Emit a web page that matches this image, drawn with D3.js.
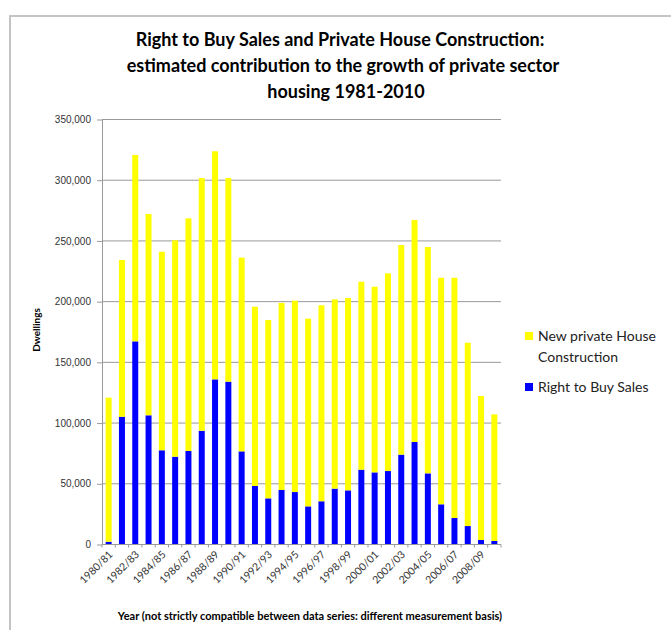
<!DOCTYPE html>
<meta charset="utf-8">
<style>
body { margin: 0; background: #fff; }
svg { font-family: Lato, "Open Sans", sans-serif; }
.grid line { stroke: #999; }
.yaxis path, .yaxis line { stroke: #999; }
.yaxis text { fill: #333; font-size: 10px; }
</style>
<body>
<script src="https://cdn.jsdelivr.net/npm/d3@7"></script>
<script>

// years (financial years)
var years = ["1980/81","1981/82","1982/83","1983/84","1984/85","1985/86","1986/87","1987/88",
  "1988/89","1989/90","1990/91","1991/92","1992/93","1993/94","1994/95","1995/96","1996/97",
  "1997/98","1998/99","1999/00","2000/01","2001/02","2002/03","2003/04","2004/05","2005/06",
  "2006/07","2007/08","2008/09","2009/10"];

// right to buy sales (blue)
var rtbSales = [2300,105200,167300,106400,77600,72300,77000,93700,136000,134100,76700,48200,
  38000,44900,43200,31400,35600,46000,44600,61600,59400,60500,74000,84400,58600,33100,21800,
  15200,3700,2900];

// new private house construction (yellow)
var newBuild = [118600,129100,153500,165800,163500,178200,191600,208100,187800,167700,159500,
  147600,146900,154000,157600,154600,161400,155900,158400,154800,152900,162800,172600,182800,
  186400,186600,197900,151000,118600,104300];

var yTicks = [0,50000,100000,150000,200000,250000,300000,350000];

var titleLines = ["Right to Buy Sales and Private House Construction:",
  "estimated contribution to the growth of private sector",
  "housing 1981-2010"];

var W = 671, H = 630;
var pLeft = 102, pRight = 501, pTop = 119.5, pBottom = 544.5;

var svg = d3.select("body").append("svg")
    .attr("width", W)
    .attr("height", H);

// outer frame
svg.append("rect")
    .attr("x", 10).attr("y", 16)
    .attr("width", 700).attr("height", 700)
    .attr("fill", "none")
    .attr("stroke", "#c4c4c4")
    .attr("stroke-width", 2);

var x = d3.scaleBand()
    .domain(years)
    .range([pLeft, pRight])
    .paddingInner(0.55)
    .paddingOuter(0.275);

var y = d3.scaleLinear()
    .domain([0, 350000])
    .range([pBottom, pTop]);

// gridlines
svg.append("g").attr("class", "grid")
  .selectAll("line")
    .data(yTicks.slice(1))
  .enter().append("line")
    .attr("x1", pLeft).attr("x2", pRight)
    .attr("y1", function(d) { return y(d); })
    .attr("y2", function(d) { return y(d); });

// stacked bars
var table = years.map(function(yr, i) {
  return {year: yr, rtb: rtbSales[i], build: newBuild[i]};
});
var stack = d3.stack().keys(["rtb", "build"])(table);
var colors = {rtb: "#0000ff", build: "#ffff00"};

svg.append("g").selectAll("g")
    .data(stack)
  .enter().append("g")
    .attr("fill", function(d) { return colors[d.key]; })
  .selectAll("rect")
    .data(function(d) { return d; })
  .enter().append("rect")
    .attr("x", function(d) { return x(d.data.year); })
    .attr("width", x.bandwidth())
    .attr("y", function(d) { return y(d[1]); })
    .attr("height", function(d) { return y(d[0]) - y(d[1]); });

// y axis
svg.append("g").attr("class", "yaxis")
    .attr("transform", "translate(" + pLeft + ",0)")
    .call(d3.axisLeft(y).tickValues(yTicks).tickFormat(d3.format(",")).tickSize(5).tickSizeOuter(0).tickPadding(6));

// x axis baseline + ticks at category boundaries
svg.append("line")
    .attr("x1", pLeft).attr("x2", pRight)
    .attr("y1", pBottom).attr("y2", pBottom)
    .attr("stroke", "#999");
svg.append("g").selectAll("line")
    .data(d3.range(years.length + 1))
  .enter().append("line")
    .attr("x1", function(i) { return pLeft + i * x.step(); })
    .attr("x2", function(i) { return pLeft + i * x.step(); })
    .attr("y1", pBottom).attr("y2", pBottom + 3)
    .attr("stroke", "#999");

// x tick labels, every other year
svg.append("g").selectAll("text")
    .data(years.filter(function(d, i) { return i % 2 == 0; }))
  .enter().append("text")
    .attr("transform", function(d) {
      return "translate(" + (x(d) + x.bandwidth() / 2 + 2) + "," + (pBottom + 8) + ") rotate(-45)";
    })
    .attr("text-anchor", "end")
    .attr("dy", "0.35em")
    .attr("font-size", "10.5px")
    .attr("fill", "#333")
    .text(function(d) { return d; });

// titles
svg.append("g").selectAll("text")
    .data(titleLines)
  .enter().append("text")
    .attr("x", function(d, i) { return [340, 343, 346][i]; })
    .attr("y", function(d, i) { return 46 + i * 26; })
    .attr("text-anchor", "middle")
    .attr("font-size", "18px")
    .attr("font-weight", "bold")
    .text(function(d) { return d; });

svg.append("text")
    .attr("transform", "translate(40,330) rotate(-90)")
    .attr("text-anchor", "middle")
    .attr("font-size", "10px")
    .attr("font-weight", "bold")
    .text("Dwellings");

svg.append("text")
    .attr("x", 310).attr("y", 620)
    .attr("text-anchor", "middle")
    .attr("font-size", "11px")
    .attr("font-weight", "bold")
    .text("Year (not strictly compatible between data series: different measurement basis)");

// legend
var legend = [
  {lines: ["New private House", "Construction"], color: colors.build, y: 332},
  {lines: ["Right to Buy Sales"], color: colors.rtb, y: 383}
];
var lg = svg.append("g").selectAll("g")
    .data(legend)
  .enter().append("g");
lg.append("rect")
    .attr("x", 525).attr("y", function(d) { return d.y; })
    .attr("width", 8).attr("height", 8)
    .attr("fill", function(d) { return d.color; });
lg.each(function(d) {
  d3.select(this).selectAll("text")
      .data(d.lines)
    .enter().append("text")
      .attr("x", 538)
      .attr("y", function(t, i) { return d.y + 4 + i * 21; })
      .attr("dy", "0.35em")
      .attr("font-size", "14px")
      .attr("fill", "#222")
      .text(function(t) { return t; });
});

</script>
</body>
